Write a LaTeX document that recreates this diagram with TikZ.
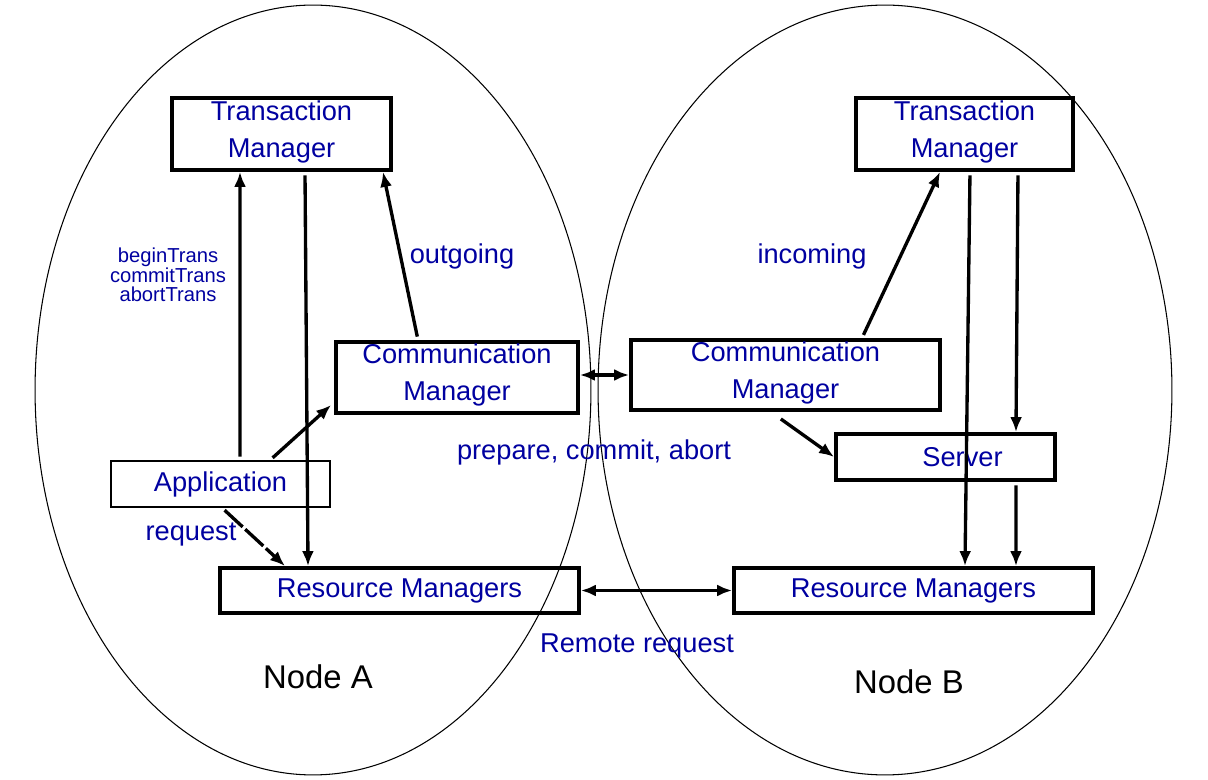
\documentclass[tikz,border=0pt]{standalone}
\usepackage{amssymb}
\usepackage{amsmath}
\usepackage{fontspec}
\setmainfont{Liberation Sans}
\usepackage{tikz}
\usetikzlibrary{arrows.meta}
\definecolor{txtblue}{RGB}{0,0,160}

\begin{document}
\begin{tikzpicture}[x=0.02cm,y=-0.02cm]
				\tikzstyle{every node}+=[inner sep=0pt]
				\tikzstyle{box}=[draw,line width=2.2pt,text=txtblue,align=center,font=\fontsize{15.5}{21}\selectfont]
				\tikzstyle{lbl}=[text=txtblue,font=\fontsize{15.5}{21}\selectfont]
				\tikzstyle{arr}=[line width=1.9pt,-{Latex[length=0.3cm,width=0.24cm]},shorten <=2pt]
				\tikzstyle{darr}=[line width=1.9pt,{Latex[length=0.3cm,width=0.24cm]}-{Latex[length=0.3cm,width=0.24cm]}]
				\useasboundingbox (0,0) rectangle (1208,780);
				% the two sites
				\draw [black,line width=0.6pt] (313,390) ellipse [x radius=5.56cm, y radius=7.7cm];
				\draw [black,line width=0.6pt] (885,390) ellipse [x radius=5.74cm, y radius=7.7cm];
				% node A
				\node [box,minimum width=4.38cm,minimum height=1.44cm] (tmA) at (281.5,134) {Transaction\\Manager\rule[-6pt]{0pt}{0pt}};
				\node [box,minimum width=4.84cm,minimum height=1.42cm] (cmA) at (457,377.5) {Communication\\Manager\rule[-6pt]{0pt}{0pt}};
				\node [box,line width=0.9pt,minimum width=4.38cm,minimum height=0.92cm] (app) at (220.5,484) {Application};
				\node [box,minimum width=7.18cm,minimum height=0.9cm] (rmA) at (399.5,590.5) {Resource Managers};
				% node B
				\node [box,minimum width=4.34cm,minimum height=1.44cm] (tmB) at (964.5,134) {Transaction\\Manager\rule[-6pt]{0pt}{0pt}};
				\node [box,minimum width=6.18cm,minimum height=1.4cm] (cmB) at (785.5,375) {Communication\\Manager\rule[-6pt]{0pt}{0pt}};
				\node [box,minimum width=4.38cm,minimum height=0.92cm] (srv) at (945.5,457) {\hspace*{0.68cm}Server};
				\node [box,minimum width=7.18cm,minimum height=0.9cm] (rmB) at (913.5,590.5) {Resource Managers};
				% labels
				\node [text=txtblue,align=center,font=\fontsize{11.5}{11}\selectfont] (calls) at (168,275) {beginTrans\\commitTrans\\abortTrans};
				\node [lbl] (outg) at (462,256) {outgoing};
				\node [lbl] (incg) at (812,256) {incoming};
				\node [lbl] (pca) at (594,452) {prepare, commit, abort};
				\node [lbl] (req) at (191,535) {request};
				\node [lbl] (remreq) at (637,646) {Remote request};
				\node [font=\fontsize{18.7}{22}\selectfont] (nodeA) at (318,677) {Node A};
				\node [font=\fontsize{18.7}{22}\selectfont] (nodeB) at (909,682) {Node B};
				% connectors at A
				\draw [arr] ([xshift=0.39cm]app.north) -- ([xshift=-0.83cm]tmA.south);
				\draw [arr] ([xshift=0.47cm]tmA.south) -- ([xshift=-1.83cm]rmA.north);
				\draw [arr] ([xshift=-0.78cm]cmA.north) -- ([xshift=2.03cm]tmA.south);
				\draw [arr] ([xshift=0.99cm]app.north) -- ([xshift=-0.06cm,yshift=-0.55cm]cmA.west);
				\draw [arr,dash pattern=on 14pt off 2pt] ([xshift=0.03cm]app.south) -- ([xshift=-2.29cm]rmA.north);
				% connectors between sites
				\draw [darr] (cmA.east |- cmB.west) -- (cmB.west);
				\draw [darr] (rmA.east) -- (rmB.west);
				% connectors at B
				\draw [arr] ([xshift=1.53cm]cmB.north) -- ([xshift=-0.49cm]tmB.south);
				\draw [arr] ([xshift=0.11cm]tmB.south) -- ([xshift=1.03cm]rmB.north);
				\draw [arr] ([xshift=1.07cm]tmB.south) -- ([xshift=1.41cm]srv.north);
				\draw [arr] ([xshift=-0.15cm,yshift=-0.1cm]cmB.south) -- (srv.west);
				\draw [arr] ([xshift=1.41cm]srv.south) -- ([xshift=2.05cm]rmB.north);
			\end{tikzpicture}
\end{document}
